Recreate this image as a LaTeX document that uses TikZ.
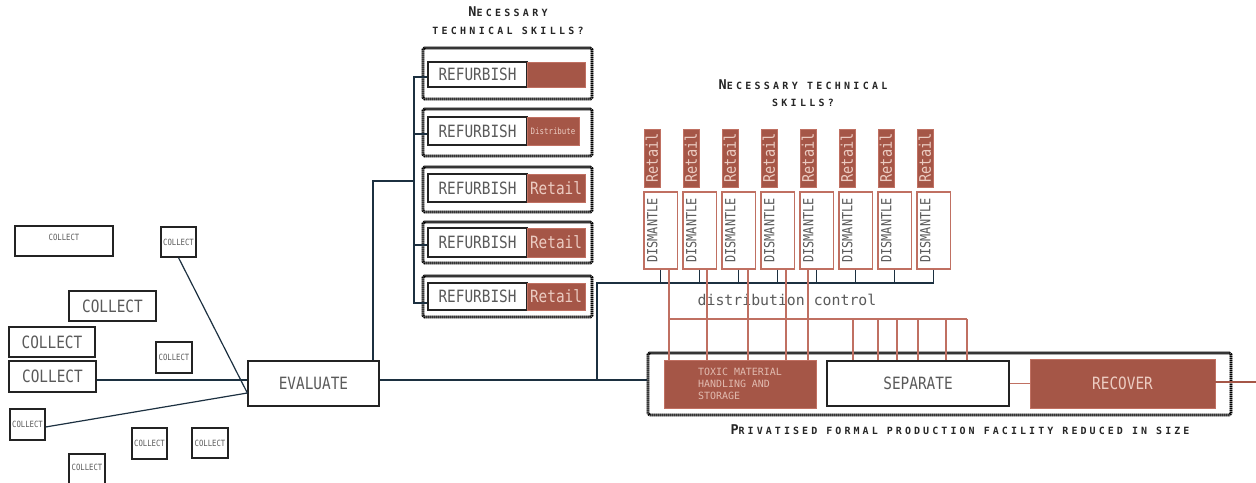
\documentclass[tikz,border=0pt]{standalone}
\usepackage{fontspec}
\usepackage{xcolor}
\newfontfamily\boxfont[FakeStretch=0.85]{DejaVu Sans Mono}
\newfontfamily\monofont{DejaVu Sans Mono}
\newfontfamily\titlefont[LetterSpace=33]{DejaVu Sans Mono}
\newfontfamily\labelfont[LetterSpace=31]{DejaVu Sans Mono}
\newcommand{\capinit}[1]{{\fontsize{13.5}{13.5}\selectfont #1}}
\newcommand{\tinytext}{\fontsize{8.8}{9}\selectfont}
\definecolor{brick}{RGB}{165,86,71}
\definecolor{brickline}{RGB}{192,112,98}
\definecolor{blush}{RGB}{236,204,194}
\definecolor{navy}{RGB}{28,48,64}
\definecolor{inkgray}{RGB}{90,90,90}
\definecolor{edge}{RGB}{35,35,35}

\begin{document}
\begin{tikzpicture}[x=1bp,y=-1bp,
  box/.style={draw=edge, line width=1.3bp, fill=white, inner sep=0pt, text=inkgray,
    font=\boxfont\fontsize{17}{17}\selectfont},
  tinybox/.style={box, font=\boxfont\fontsize{8.6}{9}\selectfont},
  ticket/.style={draw=black, line width=2.6bp, dash pattern=on 1.1bp off 0.9bp, rounded corners=1.5bp,
    preaction={draw=black!40, solid, line width=2.6bp}},
  brickbox/.style={fill=brick, draw=brickline, line width=0.6bp, inner sep=0pt, text=blush,
    font=\boxfont\fontsize{17}{17}\selectfont},
  dismbox/.style={draw=brickline, line width=1.3bp, fill=white, inner sep=0pt, text=inkgray,
    minimum width=77bp, minimum height=33.5bp, text depth=17bp, font=\boxfont\fontsize{14}{14}\selectfont},
  wire/.style={draw=navy, line width=1.2bp},
  redwire/.style={draw=brickline, line width=1.2bp},
  caption/.style={font=\titlefont\bfseries\fontsize{10}{18}\selectfont, text=black!85, align=center, inner sep=0pt}]
  \useasboundingbox (0,0) rectangle (1256,483);
  \clip (0,0) rectangle (1256,483);

  % collection points
  \node[tinybox, minimum width=98bp, minimum height=30bp, text depth=8bp] (c1) at (64,241) {COLLECT};
  \node[tinybox, minimum width=35bp, minimum height=30bp] (c2) at (178.5,242) {COLLECT};
  \node[box, minimum width=87bp, minimum height=30bp] (c3) at (112.5,306) {COLLECT};
  \node[box, minimum width=86bp, minimum height=30bp] (c4) at (52,342) {COLLECT};
  \node[tinybox, minimum width=36bp, minimum height=31bp] (c5) at (174,357.5) {COLLECT};
  \node[box, minimum width=87bp, minimum height=31bp] (c6) at (52.5,376.5) {COLLECT};
  \node[tinybox, minimum width=35bp, minimum height=31bp] (c7) at (27.5,424.5) {COLLECT};
  \node[tinybox, minimum width=35bp, minimum height=31bp] (c8) at (149.5,443.5) {COLLECT};
  \node[tinybox, minimum width=36bp, minimum height=30bp] (c9) at (210,443) {COLLECT};
  \node[tinybox, minimum width=36bp, minimum height=34bp, text depth=8bp] (c10) at (87,471) {COLLECT};

  \node[box, minimum width=131bp, minimum height=45bp] (eval) at (313.5,383.5) {EVALUATE};

  \draw[wire] (c2.south) -- (eval.west |- 0,393);
  \draw[wire] (c6.east |- 0,380) -- (eval.west |- 0,380);
  \draw[wire] (c7.east |- 0,427) -- (eval.west |- 0,393);

  % refurbishing
  \node[caption] (skillsA) at (508,21) {\capinit{N}ECESSARY\\TECHNICAL SKILLS?};
  \foreach \n/\oy/\oh/\iy/\ih/\rx/\rw/\rtext in {1/73.5/51/74.5/25/556/58/{},
      2/132.5/47/131/28/553/52/{\tinytext Distribute}, 3/189.5/45/188/28/556/58/Retail,
      4/242.5/41/242.5/29/556/58/Retail, 5/296.5/41/296.5/27/556/58/Retail} {
    \node[ticket, minimum width=169bp, minimum height=\oh*1bp] (rbo\n) at (507.5,\oy) {};
    \node[box, minimum width=99bp, minimum height=\ih*1bp] (rb\n) at (477.5,\iy) {REFURBISH};
    \node[brickbox, minimum width=\rw*1bp, minimum height=\ih*1bp] (rr\n) at (\rx,\iy) {\rtext};
  }
  \coordinate (spine) at (414,181);
  \draw[wire] (373,0 |- eval.north) |- (spine);
  \draw[wire] (rb1.west |- 0,77) -| (spine |- 0,303) -- (rb5.west |- 0,303);
  \draw[wire] (spine |- 0,134) -- (rb2.west |- 0,134);
  \draw[wire] (spine |- 0,245) -- (rb4.west |- 0,245);

  % dismantling
  \node[caption, font=\titlefont\bfseries\fontsize{10}{17.5}\selectfont] (skillsB) at (803,93)
    {\capinit{N}ECESSARY TECHNICAL\\SKILLS?};
  \foreach \i in {1,...,8} {
    \pgfmathsetmacro\dx{644+39*(\i-1)}
    \node[brickbox, rotate=90, minimum width=58bp, minimum height=16bp,
      font=\boxfont\fontsize{16}{16}\selectfont] (ret\i) at (\dx+8,158) {Retail};
    \node[dismbox, rotate=90] (dis\i) at (\dx+16.75,230.5) {DISMANTLE};
  }
  \node[font=\monofont\fontsize{14.9}{15}\selectfont, text=inkgray, inner sep=0pt] (distctl) at (787,300)
    {distribution control};

  % production facility
  \node[ticket, minimum width=583bp, minimum height=62bp] (fac) at (939.5,384) {};
  \node[brickbox, minimum width=152bp, minimum height=48bp, align=left, text=blush!85!brick,
    font=\monofont\fontsize{10}{12}\selectfont] (toxic) at (740,384) {TOXIC MATERIAL\\HANDLING AND\\STORAGE};
  \node[box, minimum width=182bp, minimum height=45bp] (sep) at (918,383.5) {SEPARATE};
  \node[brickbox, minimum width=185bp, minimum height=49bp] (rec) at (1122.5,383.5) {RECOVER};
  \node[caption, font=\labelfont\bfseries\fontsize{10}{12}\selectfont] (facname) at (960,430)
    {\capinit{P}RIVATISED FORMAL PRODUCTION FACILITY REDUCED IN SIZE};

  \coordinate (tee) at (597,380);
  \draw[wire] (eval.east |- tee) -- (fac.west |- tee);
  \draw[wire] (tee) |- (dis8.west |- 0,283);
  \foreach \i in {1,...,8} \draw[wire] (dis\i.west) -- (dis\i.west |- 0,283);

  \foreach \i/\x in {1/669,2/707,3/748,4/786,5/808}
    \draw[redwire] (\x,0 |- dis\i.west) -- (\x,0 |- toxic.north);
  \coordinate (rail) at (669,319);
  \draw[redwire] (rail) -- (967,0 |- rail);
  \foreach \x in {853,878,897,918,946,967}
    \draw[redwire] (\x,0 |- rail) -- (\x,0 |- sep.north);

  \coordinate (outlet) at (1256,382);
  \draw[redwire] (sep.east) -- (rec.west);
  \draw[redwire, draw=brick, line width=2.6bp] (rec.east |- outlet) -- (outlet);
\end{tikzpicture}
\end{document}
